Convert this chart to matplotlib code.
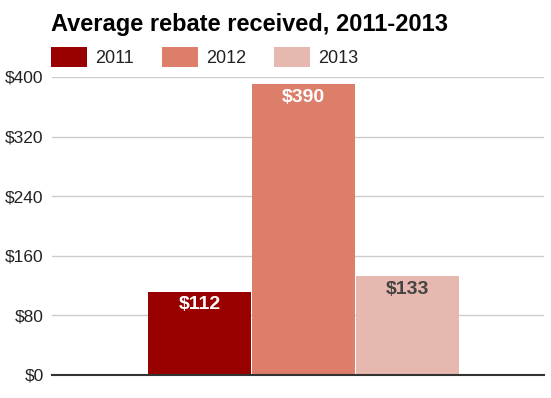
import matplotlib
matplotlib.use("Agg")
import matplotlib.pyplot as plt
from matplotlib.patches import Patch

plt.rcParams['font.family'] = ['Liberation Sans', 'DejaVu Sans']

title = "Average rebate received, 2011-2013"
years = ["2011", "2012", "2013"]
values = [112, 390, 133]
colors = ["#990000", "#dd7e6b", "#e6b8af"]
label_colors = ["#ffffff", "#ffffff", "#444444"]
yticks = [0, 80, 160, 240, 320, 400]

W, H = 551, 398
fig = plt.figure(figsize=(W / 100, H / 100), dpi=100)
ax = fig.add_axes([52 / W, 1 - 375 / H, (544 - 52) / W, (375 - 77) / H])

offsets = [-1, 0, 1]
bars = ax.bar(offsets, values, width=0.99, color=colors, zorder=3)
for b, v, lc in zip(bars, values, label_colors):
    ax.annotate(f"${v}", (b.get_x() + b.get_width() / 2, v), xytext=(0, -3.5),
                textcoords="offset points", ha="center", va="top",
                color=lc, fontsize=14, fontweight="bold", zorder=4)

ax.set_xlim(-2.425, 2.319)
ax.set_ylim(0, 400)
ax.set_yticks(yticks)
ax.set_yticklabels([f"${t}" for t in yticks], fontsize=12.5, color="#222222")
ax.set_xticks([])
ax.yaxis.grid(True, color="#cccccc", lw=1, zorder=0)
for s in ["left", "right", "top"]:
    ax.spines[s].set_visible(False)
ax.spines["bottom"].set_color("#333333")
ax.spines["bottom"].set_linewidth(1.5)
ax.spines["bottom"].set_zorder(5)
ax.tick_params(axis="y", length=0, pad=6)

fig.text(51 / W, 1 - 31 / H, title, fontsize=17, fontweight="bold",
         ha="left", va="baseline", color="#000000")

handles = [Patch(facecolor=c, edgecolor="none") for c in colors]
leg = fig.legend(handles, years, loc="upper left",
                 bbox_to_anchor=(51 / W, 1 - 47 / H), ncol=3, frameon=False,
                 fontsize=13, handlelength=2.0, handleheight=1.3,
                 handletextpad=0.44, columnspacing=1.55, borderpad=0,
                 borderaxespad=0)
for t in leg.get_texts():
    t.set_color("#222222")

fig.savefig("out.png", dpi=100, facecolor="white")
